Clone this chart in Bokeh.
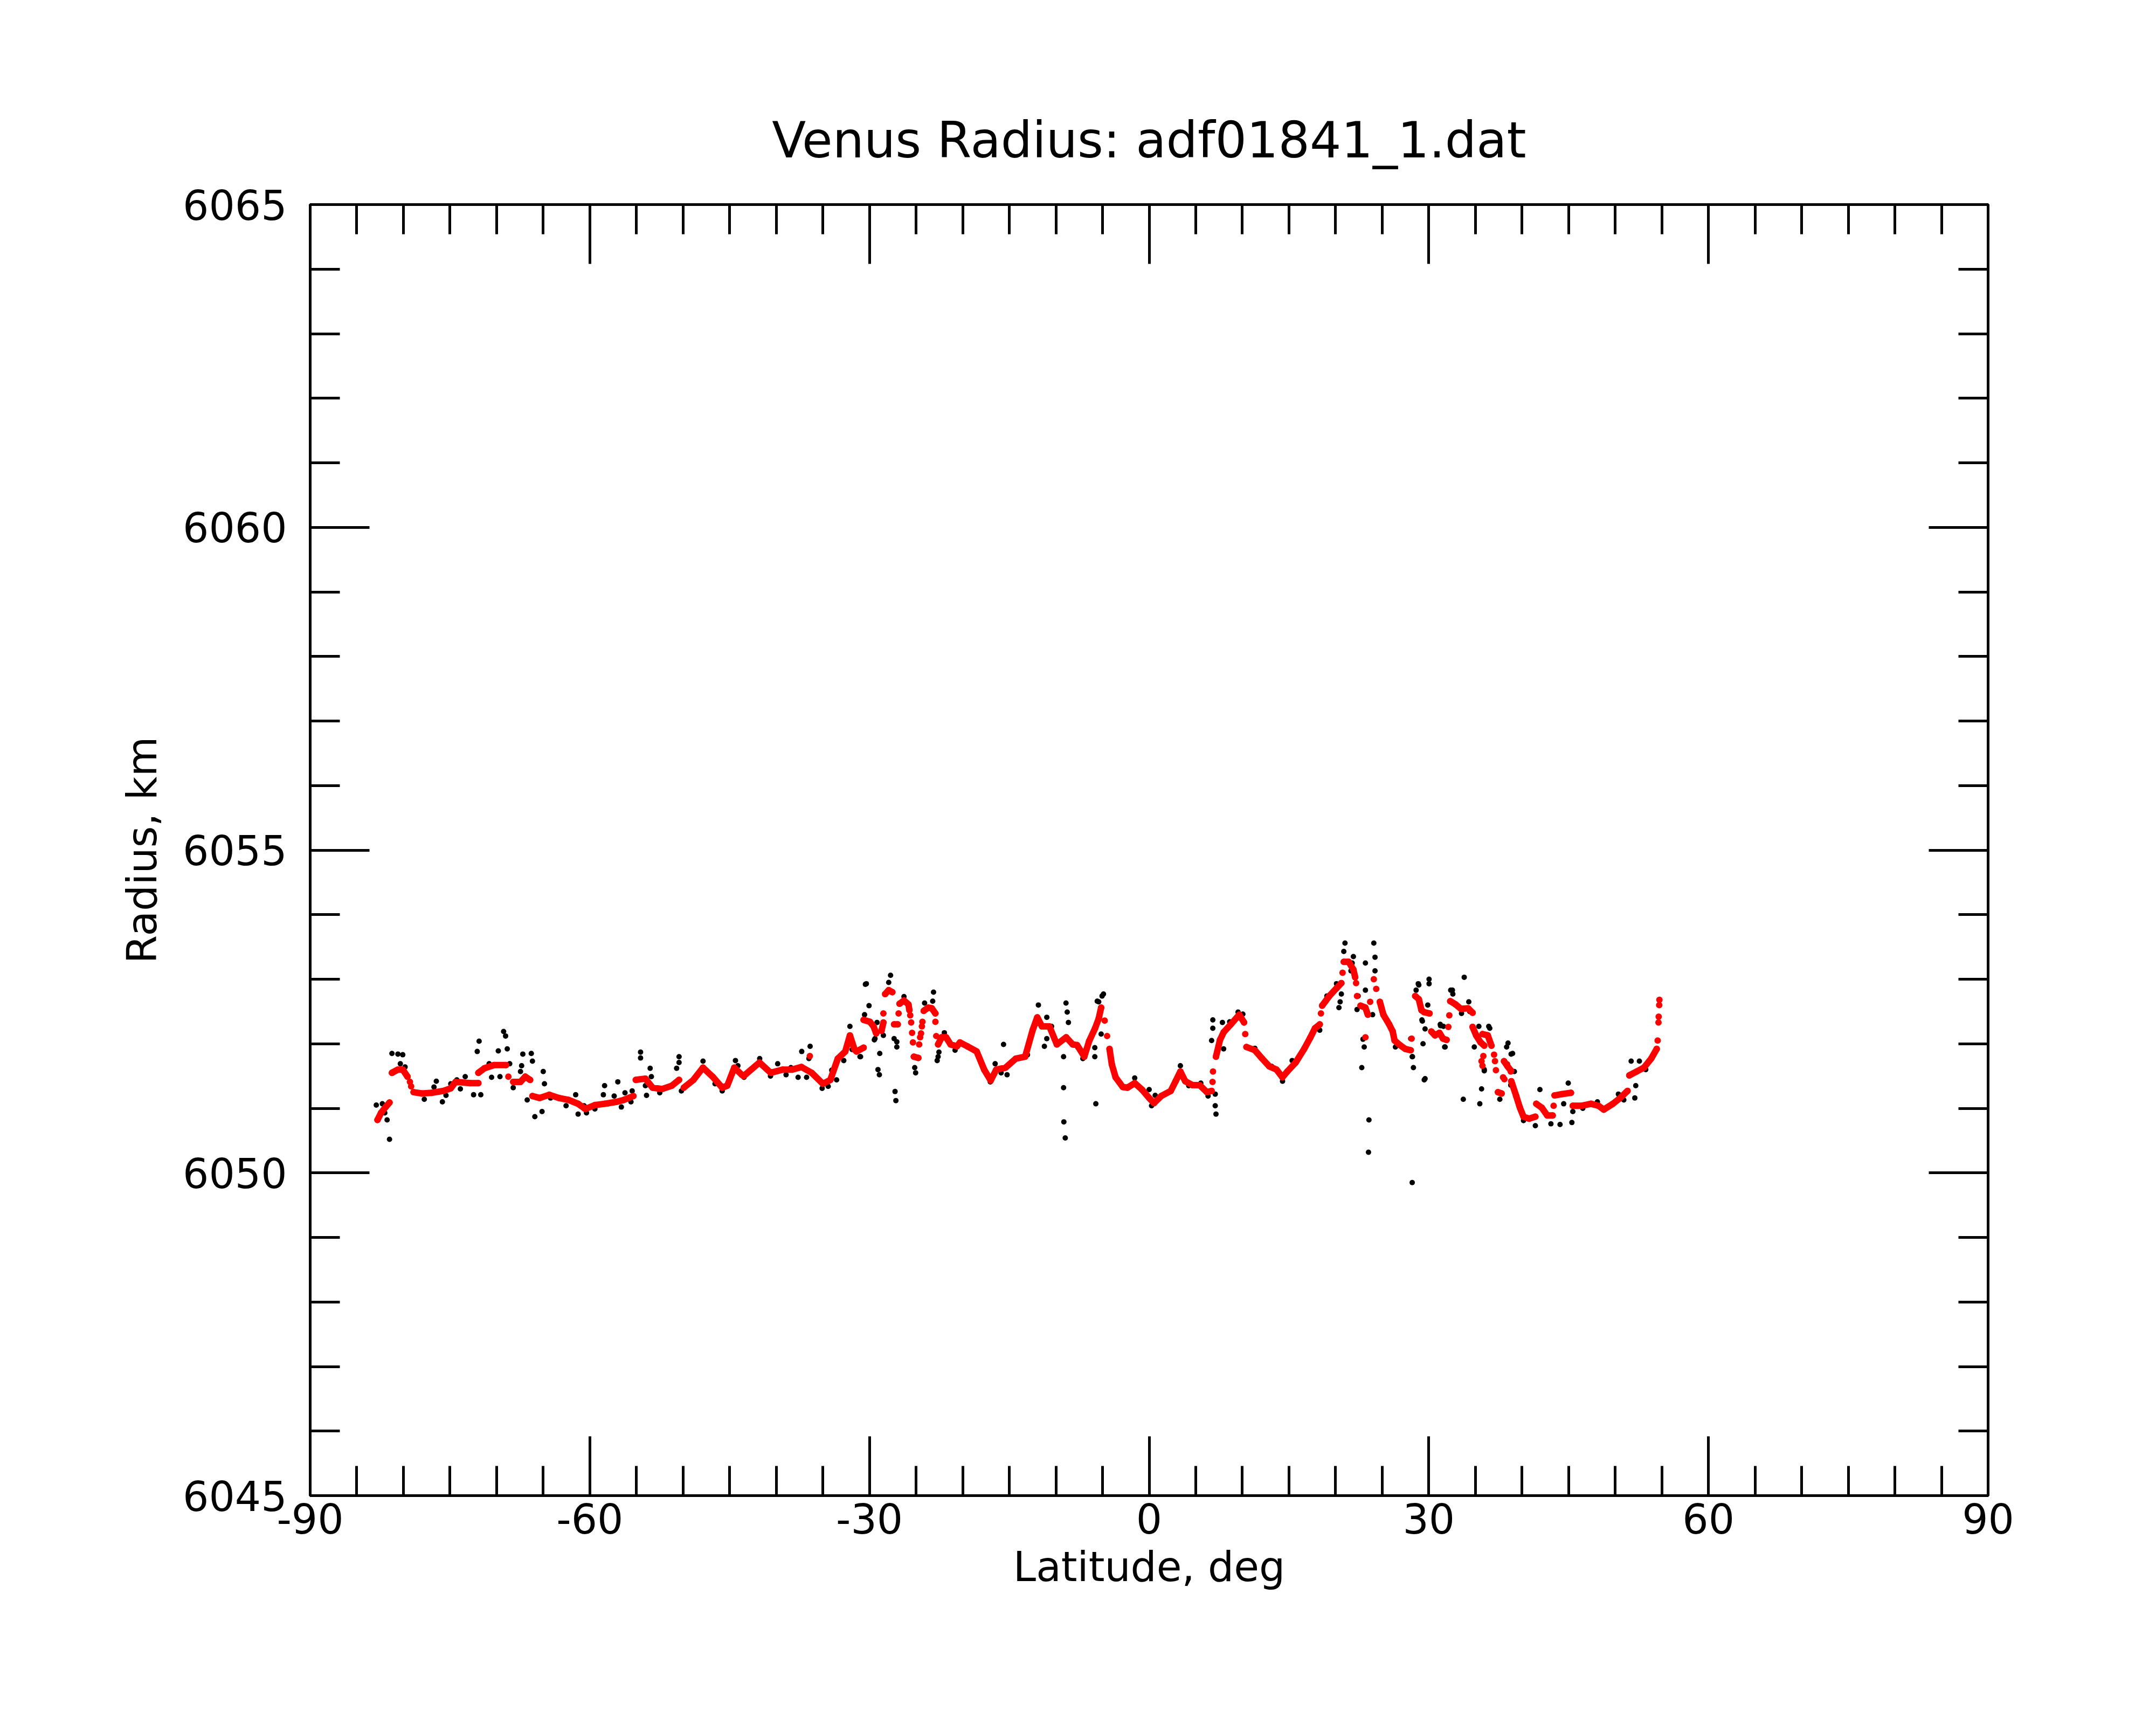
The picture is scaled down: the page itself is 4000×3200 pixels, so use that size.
from bokeh.plotting import figure
from bokeh.models import Range1d, LinearAxis, SingleIntervalTicker, CustomJSTickFormatter
from bokeh.embed import file_html
from bokeh.resources import INLINE

N = float("nan")

# smoothed radius (red); NaN marks a break between contiguous runs
red_lat = [
    -82.78, -82.4, -81.9, -81.49, N,
    -81.23, -80.59, -80.07, -79.56, N, -79.3, N, -79.17, N,
    -78.91, -78.01, -76.98, -75.69, -74.92, -74.4, -72.86, -71.96, N,
    -71.96, -71.31, -70.28, -68.99, N, -68.74, N,
    -68.22, -67.44, -66.93, -66.41, N,
    -66.16, -65.38, -64.35, -63.32, -62.29, -61.26, -60.49, -59.46, -58.42, -57.14, -56.36, -55.33, N,
    -55.07, -54.04, -53.27, -52.24, -51.21, -50.43, N,
    -49.92, -48.89, -47.86, -46.83, -45.8, -45.26, -44.5, -43.7, -43.5, -41.8, -40.6, -39.3, -38.3,
    -37.3, -36.2, -35.0, -34.2, -33.4, -32.6, -32.1, -31.6, -31.4, -30.63, N, -36.4, N,
    -30.63, -29.96, -29.57, -29.28, N, -28.71, -28.51, N, -28.51, N,
    -28.32, -27.94, -27.55, N, -27.36, -26.97, N, -26.88, N,
    -26.78, -26.3, -25.82, -25.72, N, -25.63, N, -25.53, N, -25.43, N, -25.34, N,
    -25.24, -24.76, N, -24.67, N, -24.57, N, -24.47, N, -24.38, N, -24.32, N,
    -24.18, -23.7, -23.32, -22.93, N, -22.93, N, -22.84, N,
    -22.64, -22.26, -21.78, -21.3, -20.62, -20.3, -19.5, -18.5, -17.7, -17.0, -16.4, -15.4, -14.3,
    -13.3, -12.5, -12.0, -11.5, -10.7, -9.9, -8.9, -8.2, -7.73, -6.96, -6.44, -5.8, -5.41, -5.15, N,
    -4.77, N, -4.51, N,
    -4.25, -4.0, -3.6, -2.83, -2.32, -1.55, -0.77, 0.0, 0.52, 1.29, 2.32, 2.84, 3.35, 3.87, 4.64,
    5.41, 6.19, 6.7, N, 6.8, N, 6.85, N,
    7.17, 7.6, 8.0, 8.76, 9.67, 10.18, N, 10.31, N,
    10.44, 11.34, 12.12, 12.89, 13.66, 14.3, 14.82, 15.72, 16.63, 17.27, 17.79, 18.3, N, 18.43, N,
    18.56, 19.33, 20.1, 20.62, N, 20.75, N,
    20.88, 21.4, 21.91, 22.1, N, 22.2, N, 22.3, N,
    22.68, 23.2, 23.46, N, 23.71, N, 24.1, N, 24.36, N, 23.2, N,
    24.75, 25.13, 25.75, 26.13, 26.33, 26.9, 27.48, 28.06, N, 28.16, N,
    28.54, 28.93, 29.21, 29.5, 30.08, N,
    30.27, 30.66, 31.14, 31.52, 31.91, N, 32.1, N, 32.2, N,
    32.3, 32.87, 33.45, 34.22, 34.7, N,
    34.7, 35.08, 35.56, 35.95, N, 35.76, 36.33, 36.72, N,
    37.0, N, 37.1, N, 37.2, N, 35.85, N, 35.66, N, 35.76, N,
    38.07, 38.45, 38.83, N, 37.97, N,
    37.42, 37.81, N, 38.11, N, 38.4, N, 38.79, N,
    38.85, 39.38, 39.77, 40.16, 40.75, 41.43, N,
    41.53, 42.12, 42.71, 43.29, N, 43.39, N,
    43.49, 44.27, 45.25, N,
    45.45, 46.42, 47.4, 48.19, 48.77, 49.75, 50.53, 51.32, N,
    51.51, 52.3, 53.08, 53.86, 54.45, N, 54.55, N, 54.64, N, 54.66, N, 54.74, N, 54.72,
]
red_rad = [
    6050.82, 6050.93, 6051.02, 6051.09, N,
    6051.55, 6051.6, 6051.6, 6051.49, N, 6051.41, N, 6051.34, N,
    6051.25, 6051.23, 6051.24, 6051.27, 6051.31, 6051.41, 6051.39, 6051.39, N,
    6051.55, 6051.62, 6051.67, 6051.67, N, 6051.49, N,
    6051.41, 6051.41, 6051.49, 6051.44, N,
    6051.19, 6051.16, 6051.21, 6051.16, 6051.13, 6051.07, 6050.99, 6051.05, 6051.07, 6051.1, 6051.13, 6051.19, N,
    6051.44, 6051.46, 6051.32, 6051.3, 6051.35, 6051.44, N,
    6051.32, 6051.44, 6051.63, 6051.49, 6051.32, 6051.35, 6051.63, 6051.52, 6051.5, 6051.71, 6051.55, 6051.6, 6051.6,
    6051.64, 6051.55, 6051.38, 6051.44, 6051.77, 6051.88, 6052.13, 6051.91, 6051.88, 6051.94, N, 6051.81, N,
    6052.37, 6052.34, 6052.27, 6052.16, N, 6052.2, 6052.33, N, 6052.47, N,
    6052.77, 6052.83, 6052.8, N, 6052.3, 6052.3, N, 6052.47, N,
    6052.62, 6052.67, 6052.61, 6052.52, N, 6052.44, N, 6052.33, N, 6052.17, N, 6052.02, N,
    6051.8, 6051.78, N, 6051.99, N, 6052.1, N, 6052.16, N, 6052.27, N, 6052.34, N,
    6052.51, 6052.56, 6052.55, 6052.47, N, 6052.34, N, 6052.12, N,
    6051.99, 6052.1, 6052.1, 6051.99, 6051.96, 6052.02, 6051.96, 6051.88, 6051.6, 6051.43, 6051.6, 6051.63, 6051.77,
    6051.8, 6052.21, 6052.41, 6052.27, 6052.27, 6051.99, 6052.1, 6051.99, 6051.98, 6051.8, 6052.04, 6052.24, 6052.39, 6052.56, N,
    6052.36, N, 6052.12, N,
    6051.92, 6051.68, 6051.48, 6051.33, 6051.32, 6051.39, 6051.29, 6051.16, 6051.08, 6051.19, 6051.27, 6051.42, 6051.57, 6051.42, 6051.36,
    6051.36, 6051.25, 6051.27, N, 6051.41, N, 6051.57, N,
    6051.8, 6052.06, 6052.18, 6052.3, 6052.45, 6052.33, N, 6052.15, N,
    6051.95, 6051.9, 6051.77, 6051.65, 6051.6, 6051.48, 6051.57, 6051.71, 6051.92, 6052.09, 6052.24, 6052.3, N, 6052.47, N,
    6052.59, 6052.74, 6052.86, 6052.94, N, 6053.1, N,
    6053.27, 6053.27, 6053.15, 6053.03, N, 6052.94, N, 6052.74, N,
    6052.59, 6052.56, 6052.45, N, 6052.65, N, 6053.0, N, 6052.85, N, 6052.1, N,
    6052.65, 6052.45, 6052.3, 6052.19, 6052.05, 6051.98, 6051.92, 6051.9, N, 6052.08, N,
    6052.74, 6052.69, 6052.52, 6052.49, 6052.47, N,
    6052.19, 6052.13, 6052.17, 6052.08, 6052.06, N, 6052.26, N, 6052.44, N,
    6052.66, 6052.61, 6052.54, 6052.55, 6052.48, N,
    6052.26, 6052.13, 6052.02, 6051.97, N, 6052.15, 6052.13, 6051.97, N,
    6051.83, N, 6051.73, N, 6051.59, N, 6051.81, N, 6051.73, N, 6051.66, N,
    6051.73, 6051.65, 6051.58, N, 6051.48, N,
    6051.25, 6051.23, N, 6051.45, N, 6051.68, N, 6051.57, N,
    6051.42, 6051.19, 6051.01, 6050.87, 6050.84, 6050.87, N,
    6051.07, 6051.01, 6050.89, 6050.89, N, 6051.04, N,
    6051.2, 6051.22, 6051.24, N,
    6051.04, 6051.04, 6051.07, 6051.04, 6050.98, 6051.07, 6051.16, 6051.27, N,
    6051.51, 6051.57, 6051.63, 6051.77, 6051.92, N, 6052.05, N, 6052.33, N, 6052.42, N, 6052.68, N, 6052.6,
]

# raw radius samples (black)
black_lat = [
    -82.91, -82.26, -82.0, -81.75, -81.49, -81.23, -80.59, -80.07, -80.33, -79.82,
    -77.76, -76.47, -76.72, -75.82, -75.43, -74.92, -74.27, -73.37, -73.89, -72.47,
    -71.7, -72.08, -71.88, -70.8, -70.54, -69.64, -69.82, -69.25, -69.04, -68.86,
    -68.6, -68.22, -67.19, -67.32, -67.44, -66.28, -66.16, -66.72, -65.9, -65.13,
    -65.0, -64.87, -64.22, -62.55, -61.52, -61.26, -60.62, -60.36, -59.46, -58.42,
    -58.55, -58.04, -57.39, -57.0, -56.62, -56.23, -55.59, -55.46, -54.56, -54.56,
    -54.04, -53.92, -53.53, -53.4, -52.5, -50.43, -50.43, -50.69, -50.18, -47.86,
    -46.57, -45.8, -44.38, -44.12, -43.46, -41.78, -40.62, -39.85, -38.95, -38.43,
    -37.66, -37.27, -36.37, -36.5, -36.75, -35.08, -34.43, -34.05, -33.53, -32.76,
    -32.1, -31.86, -31.02, -30.96, -30.44, -30.34, -30.05, -30.53, -29.41, -29.19,
    -29.48, -28.9, -29.09, -28.94, -28.51, -27.74, -27.94, -27.36, -27.07, -27.07,
    -27.26, -27.17, -26.3, -25.15, -25.05, -24.09, -23.22, -23.13, -22.64, -22.55,
    -22.74, -21.97, -20.82, -18.46, -17.04, -16.52, -15.88, -15.62, -15.24, -14.08,
    -13.05, -11.88, -10.98, -10.98, -10.47, -11.24, -8.92, -8.79, -8.66, -9.18,
    -9.18, -9.15, -9.0, -7.63, -7.11, -5.83, -5.83, -5.57, -5.05, -4.9,
    -5.41, -5.15, -5.72, -1.55, 0.0, 0.26, 0.65, 3.35, 4.25, 5.54,
    6.32, 6.83, 6.83, 6.7, 7.09, 7.09, 7.17, 7.86, 7.99, 8.64,
    9.54, 10.05, 11.34, 13.15, 14.31, 15.34, 18.3, 19.07, 20.1, 20.62,
    20.49, 20.36, 21.01, 20.88, 21.91, 21.78, 21.65, 23.2, 24.1, 24.23,
    24.23, 23.2, 22.42, 22.3, 23.97, 22.94, 23.07, 22.81, 23.58, 23.53,
    26.42, 28.22, 28.35, 29.51, 28.22, 28.87, 30.03, 30.03, 29.26, 29.38,
    31.7, 31.57, 32.35, 28.64, 28.93, 29.89, 29.31, 29.6, 31.23, 28.06,
    28.25, 33.8, 32.53, 32.58, 31.75, 31.26, 34.29, 34.39, 33.51, 35.37,
    36.54, 34.88, 33.7, 35.47, 35.66, 35.95, 38.5, 38.99, 37.62, 39.18,
    38.79, 40.16, 41.43, 41.92, 43.1, 44.08, 45.35, 44.96, 44.47, 45.45,
    46.52, 48.09, 50.34, 50.92, 51.71, 52.59, 52.1, 52.2, 53.27, 36.43,
    38.35, 38.83, 35.95, 29.6,
]
black_rad = [
    6051.05, 6051.07, 6050.93, 6050.82, 6050.52, 6051.85, 6051.84, 6051.83, 6051.69, 6051.64,
    6051.14, 6051.42, 6051.33, 6051.1, 6051.2, 6051.38, 6051.44, 6051.49, 6051.3, 6051.21,
    6051.21, 6051.88, 6052.04, 6051.69, 6051.48, 6051.49, 6051.89, 6052.19, 6052.12, 6051.92,
    6051.69, 6051.32, 6051.84, 6051.66, 6051.57, 6051.85, 6051.73, 6051.13, 6050.87, 6050.95,
    6051.57, 6051.38, 6051.16, 6051.04, 6051.21, 6050.91, 6051.04, 6050.93, 6050.99, 6051.35,
    6051.21, 6051.07, 6051.19, 6051.41, 6051.02, 6051.24, 6051.1, 6051.27, 6051.87, 6051.78,
    6051.35, 6051.2, 6051.62, 6051.49, 6051.24, 6051.8, 6051.71, 6051.62, 6051.27, 6051.73,
    6051.38, 6051.27, 6051.74, 6051.66, 6051.48, 6051.77, 6051.5, 6051.69, 6051.52, 6051.63,
    6051.48, 6051.88, 6051.96, 6051.77, 6051.48, 6051.31, 6051.34, 6051.59, 6051.44, 6051.74,
    6052.27, 6051.91, 6051.8, 6051.8, 6052.92, 6052.93, 6052.59, 6052.45, 6052.08, 6052.33,
    6052.06, 6051.85, 6051.6, 6051.52, 6052.13, 6053.06, 6052.95, 6052.08, 6052.03, 6051.95,
    6051.26, 6051.12, 6052.73, 6051.63, 6051.55, 6052.63, 6052.66, 6052.8, 6051.8, 6051.87,
    6051.74, 6052.17, 6051.9, 6051.85, 6051.41, 6051.69, 6051.55, 6051.99, 6051.52, 6051.77,
    6051.83, 6052.6, 6052.41, 6052.08, 6052.27, 6051.96, 6052.63, 6052.49, 6052.33, 6051.8,
    6051.32, 6050.79, 6050.54, 6051.94, 6051.77, 6051.94, 6051.8, 6052.66, 6052.74, 6052.77,
    6052.65, 6052.15, 6051.07, 6051.47, 6051.29, 6051.04, 6051.2, 6051.66, 6051.35, 6051.39,
    6051.19, 6052.37, 6052.24, 6052.05, 6051.22, 6051.04, 6050.91, 6052.33, 6051.92, 6052.34,
    6052.49, 6052.46, 6051.93, 6051.65, 6051.42, 6051.74, 6052.21, 6052.74, 6052.93, 6052.77,
    6052.65, 6052.56, 6053.56, 6053.43, 6053.35, 6053.25, 6053.13, 6053.25, 6053.56, 6053.34,
    6053.13, 6052.83, 6052.74, 6052.53, 6052.45, 6052.07, 6051.95, 6051.63, 6050.82, 6050.32,
    6051.95, 6051.8, 6051.63, 6051.44, 6049.85, 6052.93, 6053.0, 6052.93, 6052.37, 6052.0,
    6051.95, 6052.27, 6052.83, 6052.83, 6052.91, 6052.6, 6052.35, 6052.23, 6052.3, 6052.08,
    6051.8, 6053.03, 6052.83, 6052.77, 6051.95, 6052.28, 6052.65, 6052.5, 6052.47, 6052.27,
    6052.24, 6051.95, 6051.14, 6051.07, 6051.3, 6051.6, 6052.01, 6051.85, 6051.14, 6051.57,
    6051.36, 6050.81, 6050.73, 6051.29, 6050.76, 6050.75, 6050.78, 6051.39, 6051.07, 6050.95,
    6051.0, 6051.1, 6051.22, 6051.13, 6051.73, 6051.73, 6051.16, 6051.35, 6051.6, 6052.27,
    6051.95, 6051.84, 6051.58, 6051.46,
]

TITLE = "Venus Radius: adf01841_1.dat"
X_LABEL = "Latitude, deg"
Y_LABEL = "Radius, km"
FONT = "DejaVu Sans"

p = figure(
    frame_width=3113, frame_height=2395,
    x_range=Range1d(-90, 90), y_range=Range1d(6045, 6065),
    output_backend="svg", toolbar_location=None,
    min_border_left=575, min_border_right=300, min_border_top=379, min_border_bottom=400,
    title=TITLE, x_axis_label=X_LABEL, y_axis_label=Y_LABEL,
)
p.background_fill_color = "white"
p.border_fill_color = "white"
p.grid.visible = False
p.outline_line_color = "black"
p.outline_line_width = 5

p.title.text_font = FONT
p.title.text_font_size = "92px"
p.title.text_font_style = "normal"
p.title.text_color = "black"
p.title.align = "center"
p.title.standoff = 131

bottom = p.below[0]
left = p.left[0]

top = LinearAxis()
right = LinearAxis()
p.add_layout(top, "above")
p.add_layout(right, "right")

fmt = CustomJSTickFormatter(code="return String(Math.round(tick));")

for ax in [bottom, top]:
    ax.ticker = SingleIntervalTicker(interval=30, num_minor_ticks=6)
for ax in [left, right]:
    ax.ticker = SingleIntervalTicker(interval=5, num_minor_ticks=5)

for ax in [bottom, left, top, right]:
    ax.formatter = fmt
    ax.axis_line_width = 5
    ax.axis_line_color = "black"
    ax.major_tick_line_width = 5
    ax.minor_tick_line_width = 5
    ax.major_tick_line_color = "black"
    ax.minor_tick_line_color = "black"
    ax.major_tick_in = 110
    ax.major_tick_out = 0
    ax.minor_tick_in = 55
    ax.minor_tick_out = 0
    ax.major_label_text_font = FONT
    ax.major_label_text_font_size = "76px"
    ax.major_label_text_color = "black"
    ax.axis_label_text_font = FONT
    ax.axis_label_text_font_size = "76px"
    ax.axis_label_text_font_style = "normal"
    ax.axis_label_text_color = "black"

for ax in [top, right]:
    ax.major_label_text_font_size = "0px"
    ax.major_label_standoff = 0

bottom.major_label_standoff = 14
bottom.axis_label_standoff = 14
left.major_label_standoff = 43
left.axis_label_standoff = 28

p.scatter(black_lat, black_rad, size=10, marker="circle", fill_color="black", line_color="black", line_width=0)
p.line(red_lat, red_rad, line_width=12, line_color="#ff0000", line_cap="round", line_join="round")
p.scatter(red_lat, red_rad, size=12, marker="circle", fill_color="#ff0000", line_color="#ff0000", line_width=0)

open("out.html", "w").write(file_html(p, INLINE))
